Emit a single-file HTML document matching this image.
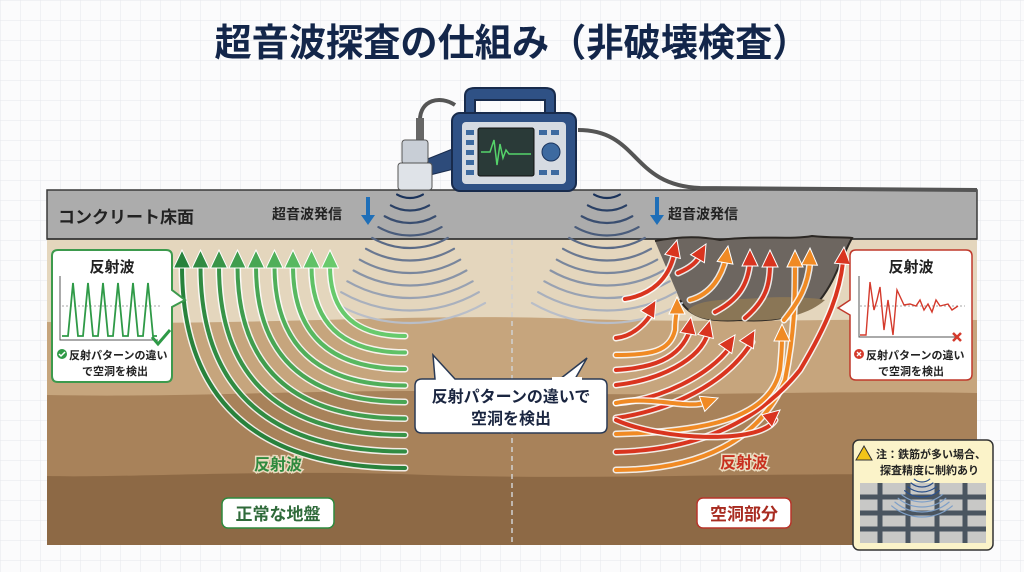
<!DOCTYPE html>
<html><head><meta charset="utf-8">
<style>
html,body{margin:0;padding:0;width:1024px;height:572px;overflow:hidden;background:#fff;}
svg{display:block;font-family:"Liberation Sans","Noto Sans CJK JP",sans-serif;}
</style></head>
<body>
<svg id="s" width="1024" height="572" viewBox="0 0 1024 572" xmlns="http://www.w3.org/2000/svg">
<defs>
<pattern id="grid" width="20" height="20" patternUnits="userSpaceOnUse">
<path d="M20 0H0V20" fill="none" stroke="#e6e7ec" stroke-width="1"/>
</pattern>
</defs>
<rect width="1024" height="572" fill="#fbfbfc"/>
<rect width="1024" height="572" fill="url(#grid)"/>
<text x="512" y="56" text-anchor="middle" font-size="38" font-weight="bold" fill="#13264a" textLength="595" lengthAdjust="spacingAndGlyphs">超音波探査の仕組み（非破壊検査）</text>

<!-- ground layers -->
<rect x="47" y="238" width="930" height="307" fill="#8d6945"/>
<path d="M47 238H977V476C800 470 600 482 400 474 250 470 120 478 47 476Z" fill="#a8825a"/>
<path d="M47 238H977V393C800 390 650 398 500 392 330 388 200 398 47 395Z" fill="#c6a57d"/>
<path d="M47 238H977V320C850 318 700 324 550 318 400 314 250 326 47 322Z" fill="#e4d6bd"/>
<!-- concrete -->
<rect x="47" y="190" width="930" height="49" fill="#acacac" stroke="#3a3a3a" stroke-width="1.5"/>
<line x1="47" y1="239" x2="977" y2="239" stroke="#333" stroke-width="1.5"/>
<!-- void -->
<path d="M655 241C680 236 700 236 720 240 760 235 790 240 812 236 830 238 845 237 852 238 840 260 836 280 820 300 800 318 770 322 740 320 710 322 690 318 680 300 666 290 660 265Z" fill="#6d6660" stroke="#2c2824" stroke-width="2"/>
<path d="M688 310C700 298 730 300 760 298 790 296 815 298 825 300 805 318 770 322 740 320 710 322 695 318 688 310Z" fill="#8a7656"/>
<line x1="512" y1="240" x2="512" y2="545" stroke="#fff" stroke-width="1.5" stroke-dasharray="5 4"/>
<line x1="512" y1="240" x2="512" y2="545" stroke="#555" stroke-width="0.8" stroke-dasharray="5 4" opacity=".5"/>

<text x="58" y="223" font-size="17" font-weight="bold" fill="#222">コンクリート床面</text>
<text x="272" y="219" font-size="14" font-weight="bold" fill="#222">超音波発信</text>
<path d="M366 197v18h-5l7 10 7-10h-5v-18z" fill="#1f6fb8"/>
<text x="668" y="219" font-size="14" font-weight="bold" fill="#222">超音波発信</text>
<path d="M655 197v18h-5l7 10 7-10h-5v-18z" fill="#1f6fb8"/>

<g id="waves"></g>
<g id="green"></g>
<g id="red"></g>

<!-- device -->
<path d="M420 120C420 100 440 95 455 105" fill="none" stroke="#555" stroke-width="4"/>
<path d="M578 130C640 130 630 185 700 188L977 190" fill="none" stroke="#555" stroke-width="4"/>
<rect x="416" y="118" width="8" height="22" fill="#666"/>
<path d="M425 160L455 148 458 168 430 175Z" fill="#2d4b7a" stroke="#1a2d4d"/>
<rect x="402" y="140" width="26" height="24" rx="3" fill="#c8ced6" stroke="#555"/>
<rect x="398" y="163" width="34" height="27" rx="3" fill="#dfe3e8" stroke="#555"/>
<path d="M465 118V96Q465 88 475 88H545Q555 88 555 96V118H545V100H475V118Z" fill="#2f5185" stroke="#182b4c" stroke-width="2"/>
<rect x="452" y="113" width="124" height="78" rx="8" fill="#2f5185" stroke="#182b4c" stroke-width="2"/>
<rect x="462" y="122" width="104" height="62" rx="4" fill="#d6dbe2"/>
<rect x="478" y="128" width="56" height="48" rx="2" fill="#2a3a38" stroke="#111"/>
<path d="M481 152H490L494 140 497 165 500 144 503 158 506 150 509 154H531" fill="none" stroke="#55d36a" stroke-width="1.5"/>
<g fill="#3d6aa0"><rect x="466" y="130" width="8" height="5"/><rect x="466" y="140" width="8" height="5"/><rect x="466" y="150" width="8" height="5"/><rect x="466" y="160" width="8" height="5"/><rect x="466" y="170" width="8" height="5"/><rect x="539" y="130" width="8" height="5"/><rect x="551" y="130" width="8" height="5"/><rect x="539" y="170" width="8" height="5"/><rect x="551" y="170" width="8" height="5"/></g>
<circle cx="551" cy="152" r="9" fill="#3d6aa0" stroke="#1b355f"/>

<!-- left callout -->
<path d="M58 250H166Q172 250 172 256V290L185 300 172 307V376Q172 382 166 382H58Q52 382 52 376V256Q52 250 58 250Z" fill="#fff" stroke="#3d9a4d" stroke-width="2"/>
<text x="112" y="272" text-anchor="middle" font-size="15" font-weight="bold" fill="#222">反射波</text>
<path d="M60 276V340H158" fill="none" stroke="#555" stroke-width="1"/>
<line x1="62" y1="306" x2="160" y2="306" stroke="#888" stroke-width=".7" stroke-dasharray="2 2"/>
<path d="M62 336H68L73 283 78 336H83L88 283 93 336H98L103 283 108 336H113L118 283 123 336H128L133 283 138 336H143L148 283 153 336H157" fill="none" stroke="#2f9a47" stroke-width="1.8"/>
<path d="M152 337L158 344 170 330" fill="none" stroke="#2f9a47" stroke-width="3"/>
<circle cx="62" cy="354" r="5" fill="#2f9a47"/><path d="M59 354l2 2 4-4" stroke="#fff" fill="none" stroke-width="1.5"/>
<text x="69" y="359" font-size="11" font-weight="bold" fill="#222">反射パターンの違い</text>
<text x="115" y="375" text-anchor="middle" font-size="11" font-weight="bold" fill="#222">で空洞を検出</text>

<!-- right callout -->
<path d="M856 250H966Q972 250 972 256V374Q972 380 966 380H856Q850 380 850 374V315L838 308 850 300V256Q850 250 856 250Z" fill="#fff" stroke="#c0392b" stroke-width="1.5"/>
<text x="911" y="272" text-anchor="middle" font-size="15" font-weight="bold" fill="#222">反射波</text>
<path d="M859 276V337H958" fill="none" stroke="#555" stroke-width="1"/>
<line x1="860" y1="306" x2="965" y2="306" stroke="#888" stroke-width=".7" stroke-dasharray="2 2"/>
<path d="M860 335H866L870 282 874 310 877 300 880 287 884 330 888 300 893 335 897 290 904 305 910 304 916 306 920 300 924 310 928 304 932 312 936 300 940 306 948 304 952 310 958 306" fill="none" stroke="#d43a2c" stroke-width="1.4"/>
<path d="M953 333L961 341M961 333L953 341" stroke="#d43a2c" stroke-width="2.5"/>
<circle cx="859" cy="354" r="5" fill="#d43a2c"/><path d="M857 352l4 4M861 352l-4 4" stroke="#fff" stroke-width="1.3"/>
<text x="866" y="359" font-size="11" font-weight="bold" fill="#222">反射パターンの違い</text>
<text x="911" y="375" text-anchor="middle" font-size="11" font-weight="bold" fill="#222">で空洞を検出</text>

<!-- center callout -->
<path d="M422 379H435L433 355 455 379H600Q607 379 607 386V426Q607 433 600 433H422Q415 433 415 426V386Q415 379 422 379Z" fill="#fff" stroke="#2a3a55" stroke-width="1.5"/>
<path d="M560 379L587 358 575 379" fill="#fff" stroke="#2a3a55" stroke-width="1.5"/>
<rect x="552" y="377" width="30" height="4" fill="#fff"/>
<text x="511" y="402" text-anchor="middle" font-size="16" font-weight="bold" fill="#1a2540">反射パターンの違いで</text>
<text x="511" y="424" text-anchor="middle" font-size="16" font-weight="bold" fill="#1a2540">空洞を検出</text>

<text x="278" y="470" text-anchor="middle" font-size="16" font-weight="bold" fill="#2f8a3e" stroke="#e9dcc0" stroke-width="3" paint-order="stroke">反射波</text>
<text x="744" y="468" text-anchor="middle" font-size="16" font-weight="bold" fill="#c8301f" stroke="#e9dcc0" stroke-width="3" paint-order="stroke">反射波</text>

<rect x="222" y="498" width="112" height="30" rx="6" fill="#fff" stroke="#2f8a3e" stroke-width="1.5"/>
<text x="278" y="520" text-anchor="middle" font-size="17" font-weight="bold" fill="#2f6a3a">正常な地盤</text>
<rect x="697" y="498" width="94" height="30" rx="6" fill="#fff" stroke="#b8352a" stroke-width="1.5"/>
<text x="744" y="520" text-anchor="middle" font-size="17" font-weight="bold" fill="#a82b20">空洞部分</text>

<!-- warning box -->
<rect x="853" y="440" width="140" height="110" rx="6" fill="#fbf3c9" stroke="#333" stroke-width="1.5"/>
<path d="M864 446L872 460H856Z" fill="#f2c418" stroke="#333"/>
<text x="876" y="458" font-size="11" font-weight="bold" fill="#222">注：鉄筋が多い場合、</text>
<text x="880" y="474" font-size="11" font-weight="bold" fill="#222">探査精度に制約あり</text>
<rect x="860" y="483" width="126" height="60" fill="#c8c8c6"/>
<g stroke="#4a5560" stroke-width="5"><line x1="860" y1="497" x2="986" y2="497"/><line x1="860" y1="513" x2="986" y2="513"/><line x1="860" y1="529" x2="986" y2="529"/><line x1="880" y1="483" x2="880" y2="543"/><line x1="908" y1="483" x2="908" y2="543"/><line x1="937" y1="483" x2="937" y2="543"/><line x1="965" y1="483" x2="965" y2="543"/></g>
<g id="mini"></g>
</svg>
<script>
var NS="http://www.w3.org/2000/svg";
function el(p,t,a){var e=document.createElementNS(NS,t);for(var k in a)e.setAttribute(k,a[k]);document.getElementById(p).appendChild(e);return e;}
function waves(g,cx,cy,r0,dr,n,ha,w,cols){
 for(var k=0;k<n;k++){var r=r0+dr*k,s=Math.sin(ha),c=Math.cos(ha);
  var t=k/(n-1);var col=cols(t);
  el(g,"path",{d:"M"+(cx-s*r)+" "+(cy+c*r)+"A"+r+" "+r+" 0 0 0 "+(cx+s*r)+" "+(cy+c*r),fill:"none",stroke:col,"stroke-width":w,"stroke-linecap":"round"});}
}
function bcol(t){var a=[26,50,90],b=[185,190,200];return "rgb("+a.map(function(v,i){return Math.round(v+(b[i]-v)*t)}).join(",")+")";}
waves("waves",410,172,26,12.5,11,0.52,2.2,bcol);
waves("waves",607,172,26,12.5,11,0.52,2.2,bcol);
waves("mini",922,470,12,5,8,0.7,1.2,function(t){return t<.5?"#2a4f8a":"#7fa0c8";});
function arrow(g,d,tx,ty,ang,col,L,W){
 L=L||15;W=W||7;
 el(g,"path",{d:d,fill:"none",stroke:"#fff","stroke-width":7,"stroke-linecap":"round",opacity:.85});
 el(g,"path",{d:d,fill:"none",stroke:col,"stroke-width":4,"stroke-linecap":"round"});
 var a=ang*Math.PI/180;
 var bx=tx-Math.cos(a)*L,by=ty-Math.sin(a)*L,px=-Math.sin(a)*W,py=Math.cos(a)*W;
 el(g,"path",{d:"M"+tx+" "+ty+"L"+(bx+px)+" "+(by+py)+"L"+(bx-px)+" "+(by-py)+"Z",fill:col,stroke:"#fff","stroke-width":1});
}
for(var i=0;i<9;i++){
 var xt=182+18.5*i,ye=468-i*16.5;
 var g=Math.round(130+i*9),col="rgb("+(40+i*8)+","+g+","+(60+i*6)+")";
 arrow("green","M405 "+ye+"Q"+xt+" "+ye+" "+xt+" 266",xt,250,-90,col,18,8.5);
}
var R="#d9341f",O="#f08a24";
var reds=[
["M625 299C650 295 670 280 675 250",677,240,-75,R],
["M678 273C690 268 698 262 702 252",706,244,-60,R],
["M690 300C712 294 722 275 726 258",728,246,-80,O],
["M715 312C738 300 748 285 750 262",750,249,-90,R],
["M745 318C766 300 770 285 770 264",770,250,-90,R],
["M616 470C700 470 760 440 785 380 795 330 795 300 795 264",795,250,-90,O],
["M784 320C800 300 808 285 810 262",810,248,-88,O],
["M616 452C700 450 760 420 800 370 830 320 840 290 843 262",844,247,-85,R],
["M616 338C635 336 648 320 652 312",656,300,-60,R],
["M616 355C650 355 670 352 675 330 675 320 676 315 677 310",677,297,-90,O],
["M616 370C650 368 680 360 690 330",691,317,-80,R],
["M616 385C660 380 700 360 708 333",710,320,-75,R],
["M616 403C660 400 710 375 730 347",735,335,-55,R],
["M616 418C670 410 725 385 752 342",755,330,-60,R],
["M616 403C650 395 690 410 706 402",718,398,-20,O],
["M616 434C700 432 770 420 780 370 782 350 782 345 782 338",782,324,-90,O],
["M616 420C660 440 760 445 775 420",780,410,-40,R]
];
reds.forEach(function(r){arrow("red",r[0],r[1],r[2],r[3],r[4],17,8);});
</script>
</body></html>
